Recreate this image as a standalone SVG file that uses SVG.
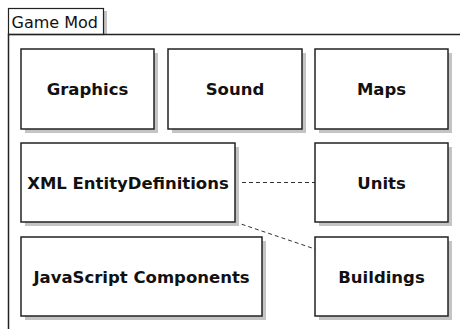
<svg xmlns="http://www.w3.org/2000/svg" width="460" height="329" viewBox="0 0 460 329">
<style>
.shadow{fill:#c4c4c4}
.box{fill:#fff;stroke:#222;stroke-width:1.5}
.lbl{font-family:"DejaVu Sans",Verdana,sans-serif;font-weight:bold;font-size:16.5px;fill:#111;text-anchor:middle}
.tab{font-family:"DejaVu Sans",Verdana,sans-serif;font-size:16px;fill:#111}
.conn{fill:none;stroke:#333;stroke-width:1;stroke-dasharray:4,3}
</style>
<rect width="460" height="329" fill="#fff"/>
<g id="frame">
<rect class="shadow" x="104" y="11" width="3" height="23"/>
<rect x="8.5" y="8.5" width="95" height="26" fill="#fff" stroke="#222" stroke-width="1.2"/>
<text class="tab" x="11.5" y="27.5">Game Mod</text>
<path d="M460 34.5 H8.5 V329" fill="none" stroke="#222" stroke-width="1.5"/>
</g>
<g id="connectors">
<line class="conn" x1="235" y1="182.5" x2="315" y2="182.5"/>
<line class="conn" x1="235" y1="222" x2="315" y2="249"/>
</g>
<g id="graphics">
<rect class="shadow" x="25" y="53" width="133" height="80"/>
<rect class="box" x="21" y="49" width="133" height="80"/>
<text class="lbl" x="87.5" y="94.5">Graphics</text>
</g>
<g id="sound">
<rect class="shadow" x="172" y="53" width="134" height="80"/>
<rect class="box" x="168" y="49" width="134" height="80"/>
<text class="lbl" x="235" y="94.5">Sound</text>
</g>
<g id="maps">
<rect class="shadow" x="319" y="53" width="133" height="80"/>
<rect class="box" x="315" y="49" width="133" height="80"/>
<text class="lbl" x="381.5" y="94.5">Maps</text>
</g>
<g id="xml">
<rect class="shadow" x="25" y="147" width="214" height="79"/>
<rect class="box" x="21" y="143" width="214" height="79"/>
<text class="lbl" x="128" y="188.5">XML EntityDefinitions</text>
</g>
<g id="units">
<rect class="shadow" x="319" y="147" width="133" height="79"/>
<rect class="box" x="315" y="143" width="133" height="79"/>
<text class="lbl" x="381.5" y="188.5">Units</text>
</g>
<g id="js">
<rect class="shadow" x="25" y="241" width="241" height="79"/>
<rect class="box" x="21" y="237" width="241" height="79"/>
<text class="lbl" x="141.5" y="283">JavaScript Components</text>
</g>
<g id="buildings">
<rect class="shadow" x="319" y="241" width="133" height="79"/>
<rect class="box" x="315" y="237" width="133" height="79"/>
<text class="lbl" x="381.5" y="283">Buildings</text>
</g>
</svg>
